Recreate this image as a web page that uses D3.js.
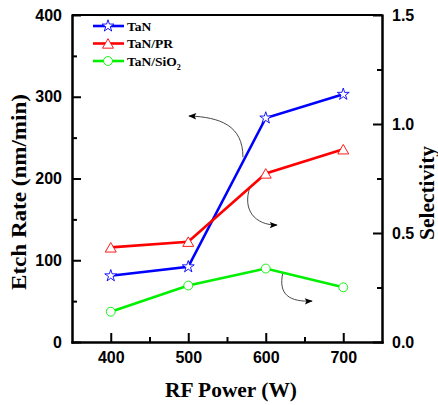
<!DOCTYPE html>
<html>
<head>
<meta charset="utf-8">
<script src="https://cdn.jsdelivr.net/npm/d3@7/dist/d3.min.js"></script>
<style>
  html, body { margin: 0; padding: 0; background: #fff; }
  svg { display: block; }
  .tick text { font-family: "Liberation Sans", Arial, sans-serif; font-weight: bold; font-size: 16px; fill: #000; }
  .axis path.domain { stroke: #000; stroke-width: 2; }
  .axis .tick line { stroke: #000; stroke-width: 2; }
  .title { font-family: "Liberation Serif", "Times New Roman", serif; font-weight: bold; fill: #000; }
  .legend text { font-family: "Liberation Serif", "Times New Roman", serif; font-weight: bold; font-size: 13.5px; fill: #000; }
</style>
</head>
<body>
<svg id="chart" width="438" height="405"></svg>
<script>
// RF power settings (W)
const rfPower = [400, 500, 600, 700];
// TaN etch rate (nm/min), left axis
const tanEtchRate = [81, 92, 274, 303];
// Selectivities, right axis
const tanPrSelectivity = [0.434, 0.46, 0.773, 0.884];
const tanSio2Selectivity = [0.139, 0.259, 0.337, 0.251];

const xMajorTicks = [400, 500, 600, 700];
const xMinorTicks = [450, 550, 650];
const leftMajorTicks = [0, 100, 200, 300, 400];
const leftMinorTicks = [50, 150, 250, 350];
const rightMajorTicks = [0, 0.5, 1.0, 1.5];
const rightMinorTicks = [0.25, 0.75, 1.25];

const seriesNames = ["TaN", "TaN/PR", "TaN/SiO"];

const svg = d3.select("#chart");
const plotL = 72, plotR = 382, plotT = 15, plotB = 342;

const x = d3.scaleLinear().domain([350, 750]).range([plotL, plotR]);
const yL = d3.scaleLinear().domain([0, 400]).range([plotB, plotT]);
const yR = d3.scaleLinear().domain([0, 1.5]).range([plotB, plotT]);

// Curved pointer arrows, in data units of the left axis: start, two controls, end
const pointers = [
  [[570.6, 226], [570.6, 265], [541, 275], [501, 276.5]],
  [[579.7, 189.6], [569.4, 161.5], [586, 143], [614.5, 143]],
  [[622, 84.4], [615.8, 57.5], [631, 49], [659.7, 50]]
];

// Frame: top border line
svg.append("line").attr("x1", plotL).attr("x2", plotR).attr("y1", plotT).attr("y2", plotT)
  .attr("stroke", "#000").attr("stroke-width", 2);

// Axes with inward ticks
function addAxis(axis, tf) {
  return svg.append("g").attr("class", "axis").attr("transform", tf).call(axis);
}
addAxis(d3.axisBottom(x).tickValues(xMajorTicks).tickSizeInner(-9).tickSizeOuter(0).tickPadding(10).tickFormat(d3.format("d")), `translate(0,${plotB})`);
addAxis(d3.axisBottom(x).tickValues(xMinorTicks).tickSizeInner(-5).tickSizeOuter(0).tickFormat(""), `translate(0,${plotB})`);
addAxis(d3.axisLeft(yL).tickValues(leftMajorTicks).tickSizeInner(-9).tickSizeOuter(0).tickPadding(10).tickFormat(d3.format("d")), `translate(${plotL},0)`);
addAxis(d3.axisLeft(yL).tickValues(leftMinorTicks).tickSizeInner(-5).tickSizeOuter(0).tickFormat(""), `translate(${plotL},0)`);
addAxis(d3.axisRight(yR).tickValues(rightMajorTicks).tickSizeInner(-9).tickSizeOuter(0).tickPadding(10).tickFormat(d3.format(".1f")), `translate(${plotR},0)`);
addAxis(d3.axisRight(yR).tickValues(rightMinorTicks).tickSizeInner(-5).tickSizeOuter(0).tickFormat(""), `translate(${plotR},0)`);

svg.selectAll(".axis path.domain").attr("stroke-linecap", "square");

// Axis titles
svg.append("text").attr("class", "title")
  .attr("x", (plotL + plotR) / 2 + 4).attr("y", 397)
  .attr("text-anchor", "middle").attr("font-size", 20)
  .attr("textLength", 132).attr("lengthAdjust", "spacingAndGlyphs")
  .text("RF Power (W)");
svg.append("text").attr("class", "title")
  .attr("transform", "translate(26,192) rotate(-90)")
  .attr("text-anchor", "middle").attr("font-size", 20)
  .attr("textLength", 196).attr("lengthAdjust", "spacingAndGlyphs")
  .text("Etch Rate (nm/min)");
svg.append("text").attr("class", "title")
  .attr("transform", "translate(434,193) rotate(-90)")
  .attr("text-anchor", "middle").attr("font-size", 20)
  .attr("textLength", 94).attr("lengthAdjust", "spacingAndGlyphs")
  .text("Selectivity");

// Arrowhead
svg.append("defs").append("marker")
  .attr("id", "arrowhead").attr("viewBox", "0 0 10 10")
  .attr("refX", 9).attr("refY", 5)
  .attr("markerWidth", 10).attr("markerHeight", 8)
  .attr("markerUnits", "userSpaceOnUse")
  .attr("orient", "auto")
  .append("path").attr("d", "M0,1 L10,5 L0,9 L2,5 Z").attr("fill", "#000");

const pointerPath = p => {
  const pt = d => [x(d[0]), yL(d[1])];
  const [a, b, c, e] = p.map(pt);
  return `M${a[0]},${a[1]} C${b[0]},${b[1]} ${c[0]},${c[1]} ${e[0]},${e[1]}`;
};
svg.append("g").selectAll("path").data(pointers).join("path")
  .attr("d", pointerPath)
  .attr("fill", "none").attr("stroke", "#333").attr("stroke-width", 0.9)
  .attr("marker-end", "url(#arrowhead)");

// Series
const series = [
  { name: seriesNames[0], values: tanEtchRate, y: yL, color: "#0000ff", symbol: d3.symbolStar, size: 44 },
  { name: seriesNames[1], values: tanPrSelectivity, y: yR, color: "#ff0000", symbol: d3.symbolTriangle, size: 52 },
  { name: seriesNames[2], values: tanSio2Selectivity, y: yR, color: "#00f000", symbol: d3.symbolCircle, size: 62 }
];

series.forEach(s => {
  const pts = rfPower.map((p, i) => [x(p), s.y(s.values[i])]);
  svg.append("path")
    .attr("d", d3.line()(pts))
    .attr("fill", "none").attr("stroke", s.color).attr("stroke-width", 2.6);
  svg.append("g").selectAll("path").data(pts).join("path")
    .attr("transform", d => `translate(${d[0]},${d[1] + (s.symbol === d3.symbolTriangle ? 1.5 : 0)})`)
    .attr("d", d3.symbol().type(s.symbol).size(s.size))
    .attr("fill", "#fff").attr("stroke", s.color).attr("stroke-width", 0.9);
});

// Legend
const legend = svg.append("g").attr("class", "legend");
series.forEach((s, i) => {
  const ly = 26 + i * 17.5;
  legend.append("line").attr("x1", 93).attr("x2", 124).attr("y1", ly).attr("y2", ly)
    .attr("stroke", s.color).attr("stroke-width", 2.6);
  legend.append("path")
    .attr("transform", `translate(108,${ly + (s.symbol === d3.symbolTriangle ? 1.5 : 0)})`)
    .attr("d", d3.symbol().type(s.symbol).size(s.size))
    .attr("fill", "#fff").attr("stroke", s.color).attr("stroke-width", 0.9);
  const t = legend.append("text").attr("x", 127).attr("y", ly + 4.5).text(s.name);
  if (i === 2) t.append("tspan").attr("font-size", 8).attr("dy", 4).text("2");
});
</script>
</body>
</html>
